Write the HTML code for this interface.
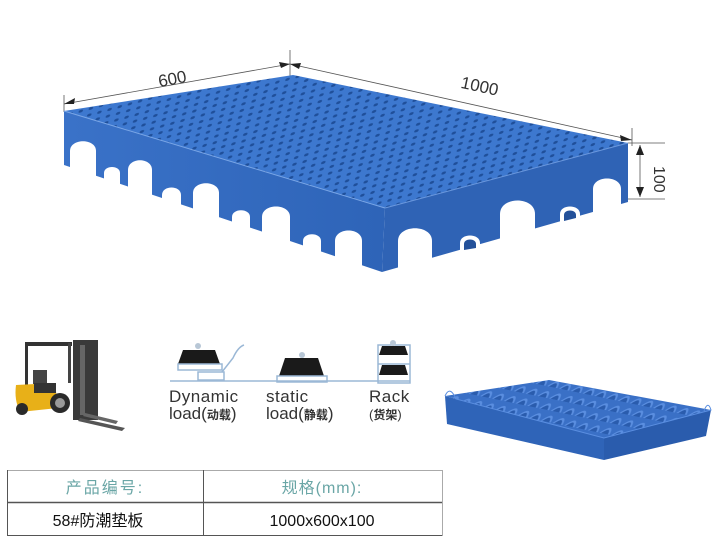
<!DOCTYPE html>
<html><head><meta charset="utf-8"><style>
html,body{margin:0;padding:0;background:#fff}
svg{display:block}
text{font-family:"Liberation Sans","Noto Sans CJK SC",sans-serif}
</style></head><body>
<svg width="728" height="542" viewBox="0 0 728 542" xmlns="http://www.w3.org/2000/svg">
<defs>
<pattern id="holes" width="9" height="7" patternUnits="userSpaceOnUse" patternTransform="skewX(-30) rotate(-18)">
<rect width="9" height="7" fill="#3d78cf"/>
<ellipse cx="4.5" cy="3.5" rx="2" ry="1.5" fill="#1f4f9a"/>
</pattern>
<pattern id="cups" width="14" height="10" patternUnits="userSpaceOnUse" patternTransform="skewX(-40) rotate(10)">
<rect width="14" height="10" fill="#3a70c6"/>
<path d="M1,9 Q7,-3 13,9 Z" fill="#5a8ee0"/>
<path d="M3,9 Q7,1 11,9 Z" fill="#2a5cad"/>
</pattern>
<linearGradient id="lf" x1="0" y1="0" x2="1" y2="0"><stop offset="0" stop-color="#3a72c8"/><stop offset="1" stop-color="#2e64b8"/></linearGradient>
</defs>

<g stroke="#555" stroke-width="0.8" fill="none">
<line x1="64" y1="95" x2="64" y2="112"/>
<line x1="290" y1="50" x2="290" y2="76"/>
<line x1="64" y1="104" x2="290" y2="64"/>
<line x1="290" y1="64" x2="632" y2="140"/>
<line x1="632" y1="128" x2="632" y2="146"/>
<line x1="628" y1="143" x2="665" y2="143"/>
<line x1="628" y1="199" x2="665" y2="199"/>
<line x1="640" y1="145" x2="640" y2="197"/>
</g>
<g fill="#222">
<polygon points="64,104 75,98 74,104"/>
<polygon points="290,64 279,62 281,68"/>
<polygon points="290,64 301,63 299,69"/>
<polygon points="632,140 620,135 621,141"/>
<polygon points="640,145 636,155 644,155"/>
<polygon points="640,197 636,187 644,187"/>
</g>
<text x="158" y="84" font-size="17" fill="#333" transform="rotate(-11 175 78)">600</text>
<text x="460" y="92" font-size="17" fill="#333" transform="rotate(12 480 90)">1000</text>
<text x="648" y="168" font-size="16" fill="#333" transform="rotate(90 652 170)">100</text>

<polygon points="64,111 293,75 628,143 385,208" fill="url(#holes)"/>
<polygon points="64,111 385,208 382,272 64,165" fill="url(#lf)"/>
<polygon points="385,208 628,143 628,202 382,272" fill="#2f63b5"/>
<line x1="64" y1="111" x2="385" y2="208" stroke="#7aa6e6" stroke-width="1"/>
<line x1="385" y1="208" x2="628" y2="143" stroke="#6a97dc" stroke-width="1"/>
<g fill="#fff">
<path d="M70,190 L70,151 C70,138 96,138 96,151 L96,190 Z"/>
<path d="M104,195 L104,173 C104,165 120,165 120,173 L120,195 Z"/>
<path d="M128,205 L128,170 C128,157 152,157 152,170 L152,205 Z"/>
<path d="M162,215 L162,195 C162,185 181,185 181,195 L181,215 Z"/>
<path d="M193,228 L193,193 C193,180 219,180 219,193 L219,228 Z"/>
<path d="M232,238 L232,217 C232,208 250,208 250,217 L250,238 Z"/>
<path d="M262,250 L262,217 C262,203 290,203 290,217 L290,250 Z"/>
<path d="M303,262 L303,241 C303,232 321,232 321,241 L321,262 Z"/>
<path d="M335,275 L335,241 C335,227 362,227 362,241 L362,275 Z"/>
<path d="M398,280 L398,241 C398,224 432,224 432,241 L432,280 Z"/>
<path d="M460,262 L460,243 C460,233 480,233 480,243 L480,262 Z"/>
<path d="M500,250 L500,214 C500,196 535,196 535,214 L535,250 Z"/>
<path d="M560,232 L560,214 C560,204 580,204 580,214 L580,232 Z"/>
<path d="M593,222 L593,189 C593,175 621,175 621,189 L621,222 Z"/>
</g>
<g fill="#24519a">
<path d="M464,250 L464,244 C464,238 476,238 476,244 L476,248 Z"/>
<path d="M564,221 L564,215 C564,209 576,209 576,215 L576,218 Z"/>
</g>

<g>
<rect x="25" y="343" width="3" height="42" fill="#333"/>
<rect x="25" y="342" width="47" height="4" fill="#333"/>
<rect x="68" y="343" width="3" height="40" fill="#444"/>
<rect x="33" y="370" width="14" height="14" fill="#444"/>
<path d="M16,385 L55,383 L58,408 L20,412 Q14,400 16,385 Z" fill="#e8b018"/>
<rect x="34" y="383" width="22" height="10" fill="#333"/>
<rect x="73" y="340" width="25" height="80" fill="#3a3a3a"/>
<rect x="80" y="345" width="5" height="70" fill="#666"/>
<circle cx="60" cy="403" r="10" fill="#2a2a2a"/><circle cx="60" cy="403" r="5" fill="#999"/>
<circle cx="22" cy="409" r="6" fill="#2a2a2a"/>
<polygon points="80,418 125,428 122,431 78,421" fill="#555"/>
<polygon points="85,413 118,421 116,424 83,416" fill="#666"/>
</g>

<g fill="#1a1a1a">
<polygon points="183,350 215,350 220,364 178,364"/>
<polygon points="285,358 318,358 324,376 279,376"/>
<polygon points="382,346 405,346 408,355 379,355"/>
<polygon points="382,365 405,365 408,375 379,375"/>
</g>
<g fill="none" stroke="#9bb8d6" stroke-width="1.5">
<rect x="178" y="364" width="44" height="6"/>
<rect x="198" y="372" width="26" height="8"/>
<path d="M222,372 L233,358 Q238,347 244,345"/>
<rect x="277" y="376" width="50" height="6"/>
<rect x="378" y="345" width="32" height="38"/>
<line x1="378" y1="364" x2="410" y2="364"/>
<line x1="170" y1="381" x2="410" y2="381"/>
</g>
<g fill="#b8c7d6"><circle cx="198" cy="346" r="3"/><circle cx="302" cy="355" r="3"/><circle cx="393" cy="343" r="3"/></g>
<text x="169" y="402" font-size="17" fill="#333" letter-spacing="0.5">Dynamic</text>
<text x="169" y="419" font-size="17" fill="#333">load(<tspan font-size="12" font-weight="bold">动载</tspan>)</text>
<text x="266" y="402" font-size="17" fill="#333" letter-spacing="0.5">static</text>
<text x="266" y="419" font-size="17" fill="#333">load(<tspan font-size="12" font-weight="bold">静载</tspan>)</text>
<text x="369" y="402" font-size="17" fill="#333" letter-spacing="0.5">Rack</text>
<text x="369" y="419" font-size="13" fill="#333">(<tspan font-size="12" font-weight="bold">货架</tspan>)</text>

<polygon points="445,396 549,380 711,410 604,438" fill="url(#cups)"/>
<polygon points="445,396 604,438 604,460 447,424" fill="#2f64b8"/>
<polygon points="604,438 711,410 706,436 604,460" fill="#2a5cad"/>
<path d="M445,396 Q450,385 456,399 L604,438 L711,410 Q708,400 704,411" fill="none" stroke="#5a8ee0" stroke-width="1"/>

<g stroke="#555" stroke-width="1" fill="none">
<line x1="7" y1="470.5" x2="443" y2="470.5" stroke="#aaa"/>
<line x1="7" y1="502.5" x2="443" y2="502.5" stroke-width="1.5"/>
<line x1="7" y1="535.5" x2="443" y2="535.5"/>
<line x1="7.5" y1="470" x2="7.5" y2="536"/>
<line x1="203.5" y1="470" x2="203.5" y2="536"/>
<line x1="442.5" y1="470" x2="442.5" y2="536" stroke="#aaa"/>
</g>
<text x="105" y="493" font-size="16" fill="#6aa6a6" text-anchor="middle" letter-spacing="2">产品编号:</text>
<text x="322" y="493" font-size="16" fill="#6aa6a6" text-anchor="middle" letter-spacing="1">规格(mm):</text>
<text x="98" y="526" font-size="16" fill="#111" text-anchor="middle">58#防潮垫板</text>
<text x="322" y="526" font-size="16" fill="#111" text-anchor="middle">1000x600x100</text>
</svg>
</body></html>
